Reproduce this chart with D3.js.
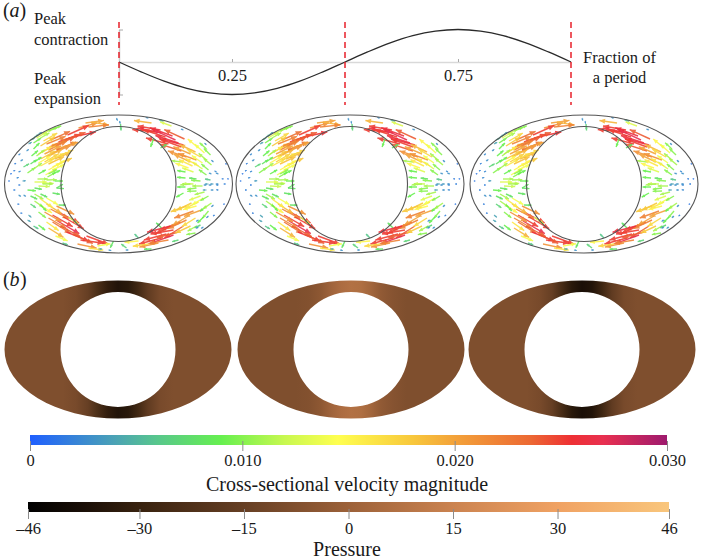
<!DOCTYPE html>
<html><head><meta charset="utf-8">
<script src="https://cdn.jsdelivr.net/npm/d3@7/dist/d3.min.js"></script>
<style>
html,body{margin:0;padding:0;background:#fff}
svg{display:block}
text{font-family:"Liberation Serif",serif;fill:#1a1a1a}
</style></head><body><svg id="c" width="705" height="560"></svg>
<script>
// Wall motion over one period
const periodFractions=[0,.05,.1,.15,.2,.25,.3,.35,.4,.45,.5,.55,.6,.65,.7,.75,.8,.85,.9,.95,1];
const wallDisplacement=[0,-.31,-.59,-.81,-.95,-1,-.95,-.81,-.59,-.31,0,.31,.59,.81,.95,1,.95,.81,.59,.31,0];
const periodTicks=[.25,.75];
const markerFractions=[0,.5,1];
const peakTicks=[-1,1];

// Colour bars
const velocityTicks=[0,.01,.02,.03];
const velocityTickLabels=["0","0.010","0.020","0.030"];
const velocityStops=[0,.004,.006,.009,.012,.0145,.018,.02,.0235,.0255,.027,.03];
const velocityColors=["#1f5fff","#4ba3b5","#58c78c","#66f04f","#c8f850","#ffff50","#f8c83c","#f3a23a","#ec6a33","#ee3034","#e83050","#9e1a6e"];
const pressureTicks=[-46,-30,-15,0,15,30,46];
const pressureTickLabels=["–46","–30","–15","0","15","30","46"];
const pressureStops=[-46,-38,-30,-15,0,15,30,46];
const pressureColors=["#000000","#1a0f07","#38220f","#663f24","#9c6139","#cb8350","#f0a263","#f9c67c"];

// Pressure along the long axis of the gap, one profile per panel
const gapX=[-115,-55,-42,-30,-20,-10,0,10,20,30,42,55,115];
const pressureA=[-8,-8,-10,-15,-24,-32,-36,-34,-27,-17,-10,-8,-8];
const pressureB=[-8,-8,-7,-4,1,5,7,6,2,-3,-6,-8,-8];
const pressureC=[-8,-8,-10,-15,-25,-34,-38,-36,-28,-17,-10,-8,-8];

// Velocity vectors: x, y, direction (deg), speed (x 0.001)
const flowField=[
[-40,-56,-15,21],[-33,-61,-8,20],[-27,-62,10,19],[-30,-57,-6,22],[-51,-49,-24,25],[-46,-47,-12,25.5],
[-72,-40,-22,22],[-68,-44,-24,23],[-64,-38,-24,24],[-70,-34,-26,22],[-60,-42,-20,25],[-66,-31,-22,21],
[-78,-38,-32,18],[-76,-32,-30,18.5],[-78,-25,-28,18],[-72,-27,-26,19],[-74,-22,-30,17.5],[-70,-20,-25,18.5],
[-64,-25,-22,19],[-62,-19,-24,18],[-78,-18,-28,16],[-82,-46,-30,13],[-76,-50,-28,12],[-70,-53,-22,10.5],[-66,-55,-20,10],
[-85,-41,-33,9.5],[-88,-44,-28,5],[-84,-47,-30,5],[-80,-50,-27,4],[-90,-40,-30,4],[-85,-35,-45,9],[-87,-28,-40,9],
[-95,-17,-30,7],[-91,-11,-35,10],[-88,-20,-35,8],[-80,-10,-30,9],[-73,-9,-30,14],[-66,-14,-25,14],[-70,-14,-30,15],
[-71,-7,-30,10],[-66,-10,-25,9],[-81,-5,0,11],[-72,-4,-2,11],[-76,-1,2,12],[-64,-3,0,9],[-62,4,5,8],
[-74,-30,-26,20],[-69,-37,-24,22],[-62,-34,-22,23],[-80,-30,-30,16],[-75,-43,-30,17],[-68,-24,-25,17],[-80,-21,-30,15],[-66,-17,-28,15],[-60,-28,-22,17],[-58,-36,-18,20],[-54,-44,-20,24],
[-84,-2,0,13],[-80,2,3,12],[-70,-10,-28,10],[-85,-15,-35,11],[-82,-28,-38,11],[-78,-46,-30,11],[-84,-22,-35,9],
[-104,-20,-30,2],[-100,-29,-35,2.5],[-98,-23,-30,3],[-105,-13,-20,2],[-108,-10,-20,1.5],[-102,-6,-10,2.5],[-100,-12,-25,2.5],[-96,-3,-5,3.5],[-110,-3,0,1.5],[-92,-33,-35,3],
[-2,-66,70,3],[1,-63,75,3],[2,-60,85,7],
// upper right
[33,-61,188,19],[53,-58,200,13],[42,-54,190,25],[43,-51,192,26],[37,-52,186,25],[47,-47,198,25],[57,-44,205,27],[66,-45,205,24],
[65,-39,195,26],[63,-37,200,25],[63,-33,198,24],[60,-41,198,26],[68,-27,198,21],[77,-32,205,19],[78,-24,200,21],[72,-22,205,20],[80,-36,220,15],[75,-12,200,13],
[86,-31,222,14],[92,-29,225,10],[88,-35,222,10],[93,-19,220,11],[88,-24,220,11],[88,-9,215,10],[84,-15,215,13],[80,-18,210,16],[63,-22,188,11],[67,-12,190,9],[67,-6,185,9],[78,-5,188,8],[75,0,182,12],[67,3,180,9],
[54,-48,200,26],[50,-40,195,25],[72,-30,203,20],[82,-27,210,17],[74,-18,205,16],[84,-21,215,14],[70,-16,200,15],[90,-14,220,10],[82,-3,185,10],[84,2,180,11],[78,7,178,10],[92,-4,190,6],
[35,-45,110,9],[42,-36,-30,8],[100,-10,200,3],[93,-10,200,3],[98,-12,210,2.5],[105,-5,190,2],[110,-5,190,1.5],[90,0,180,4],[95,0,180,3.5],[100,0,180,3],[107,0,180,2],[95,-22,220,3],[88,-39,225,3],[65,-54,200,3],[30,-66,190,3],[45,-63,195,5],[108,-20,190,1.5],
// lower left
[-61,37,30,27],[-66,31,30,25],[-60,28,28,25],[-68,25,28,22],[-62,22,25,21],[-72,20,32,19],[-78,15,35,16],[-78,21,35,15],[-84,10,30,11],[-70,34,30,22],[-55,33,30,25],
[-41,60,12,21],[-38,56,8,25],[-32,52,20,25],[-21,62,-10,14],[-30,64,8,16],[-70,44,32,19],[-63,52,22,14],[-56,59,20,6],
[-74,28,30,21],[-66,38,32,23],[-72,14,30,14],[-58,42,28,24],[-52,48,22,26],[-46,50,25,24],[-84,17,35,11],[-80,28,38,10],[-72,38,35,16],[-88,20,35,7],
[-80,41,38,9],[-85,42,30,6],[-91,36,30,4],[-90,31,40,4],[-5,57,115,8],[-91,6,5,9],[-88,12,25,8],[-78,10,25,8],[-84,4,10,8],[-78,21,45,9],[-60,21,2,8],[-66,9,10,8],[-62,4,-30,8],[-50,33,35,13],
[-101,20,10,2],[-98,29,10,2],[-100,11,30,3],[-95,11,30,3],[-105,6,0,2],[-100,1,0,2],[-76,0,0,11],[-20,65,0,4],[-10,66,10,3],
// lower right
[62,38,158,24],[55,46,170,25],[65,42,148,24],[55,51,160,27],[43,54,165,25],[40,59,168,21],[48,50,165,25],[58,40,155,25],[20,57,175,15],[33,65,178,8],[10,66,180,3],[8,64,217,7],[20,54,225,6],[43,44,225,8],
[75,27,160,22],[73,19,154,18],[83,26,160,20],[77,34,148,17],[70,32,150,20],[82,12,160,13],[78,22,165,15],[78,4,172,10],[72,0,175,11],[65,9,150,9],
[68,36,155,22],[52,42,165,26],[60,48,165,24],[80,18,155,16],[85,14,150,14],[72,42,155,18],[86,8,165,11],[68,22,160,18],[50,56,170,22],[90,12,150,10],[88,22,140,9],[78,42,150,11],[30,60,172,17],
[93,19,145,11],[90,27,130,10],[85,33,135,9],[82,41,155,7],[77,49,170,10],[60,56,165,7],
[88,1,180,3],[93,1,180,3],[100,1,180,2.5],[100,6,185,2.5],[95,6,180,3],[88,6,180,4],[95,21,140,3],[90,32,140,3],[96,31,140,2],[85,43,150,3],[80,43,150,3],[80,36,150,3],[106,20,170,1.5]
];

const panelCentersTop=[118.5,350,584];
const panelCentersBottom=[118,351,582];
const pressureProfiles=[pressureA,pressureB,pressureC];

const svg=d3.select("#c");
const defs=svg.append("defs");
const soft=defs.append("filter").attr("id","soft").attr("x","-5%").attr("y","-5%").attr("width","110%").attr("height","110%");
soft.append("feGaussianBlur").attr("stdDeviation",.4);

const vColor=d3.scaleLinear().domain(velocityStops).range(velocityColors).clamp(true);
const pColor=d3.scaleLinear().domain(pressureStops).range(pressureColors).clamp(true);

function label(x,y,s,size,anchor,style){
  return svg.append("text").attr("x",x).attr("y",y).attr("font-size",size).attr("text-anchor",anchor||"start").attr("font-style",style||"normal").text(s);
}

/* (a) waveform */
const xPeriod=d3.scaleLinear().domain([0,1]).range([119,571]);
const yWall=d3.scaleLinear().domain([-1,1]).range([94.5,29.5]);
const wavePlot=svg.append("g");
const gx=wavePlot.append("g").attr("transform",`translate(0,${yWall(0)})`)
  .call(d3.axisBottom(xPeriod).tickValues(periodTicks).tickFormat(d3.format(".2f")).tickSizeInner(-3).tickSizeOuter(0).tickPadding(7));
gx.select(".domain").attr("stroke","#d9d9d9").attr("stroke-width",1.5);
gx.selectAll(".tick line").attr("stroke","#aaa");
gx.selectAll("text").attr("font-size",16.5).attr("font-family","Liberation Serif").attr("fill","#1a1a1a");
const gy=wavePlot.append("g").attr("transform",`translate(${xPeriod(0)},0)`)
  .call(d3.axisRight(yWall).tickValues(peakTicks).tickFormat("").tickSizeInner(4).tickSizeOuter(0));
gy.select(".domain").attr("stroke","#c8c8c8").attr("stroke-width",1.5);
gy.selectAll(".tick line").attr("stroke","#aaa");
wavePlot.append("path").datum(periodFractions.map((f,i)=>[f,wallDisplacement[i]]))
  .attr("fill","none").attr("stroke","#2a2a2a").attr("stroke-width",1.3)
  .attr("d",d3.line().x(d=>xPeriod(d[0])).y(d=>yWall(d[1])).curve(d3.curveCatmullRom));
wavePlot.selectAll(".marker").data(markerFractions).join("line").attr("class","marker")
  .attr("x1",d=>xPeriod(d)).attr("x2",d=>xPeriod(d)).attr("y1",22).attr("y2",105)
  .attr("stroke","#e8202a").attr("stroke-width",1.5).attr("stroke-dasharray","6 4");

label(3,17,"(",20); label(9.5,17,"a",20,"start","italic"); label(19.5,17,")",20);
label(34,24,"Peak",16.5); label(34,45,"contraction",16.5);
label(34,84,"Peak",16.5); label(34,104,"expansion",16.5);
label(619.5,63,"Fraction of",16.5,"middle"); label(619.5,83,"a period",16.5,"middle");

/* (a) flow panels */
const ringA=114, ringB=69, hole=57.5;
panelCentersTop.forEach(cx=>{
  const cy=184;
  const px=d3.scaleLinear().domain([-ringA,ringA]).range([cx-ringA,cx+ringA]);
  const py=d3.scaleLinear().domain([-ringB,ringB]).range([cy-ringB,cy+ringB]);
  const len=d3.scaleLinear().domain([0,30]).range([0,28]);
  const g=svg.append("g").attr("filter","url(#soft)");
  const arrows=g.selectAll(".arrow").data(flowField).join("g").attr("class","arrow")
    .attr("transform",d=>`translate(${px(d[0])},${py(d[1])}) rotate(${d[2]})`)
    .attr("opacity",.9);
  arrows.append("line").attr("x1",0).attr("y1",0).attr("x2",d=>len(d[3])).attr("y2",0)
    .attr("stroke",d=>vColor(d[3]/1000)).attr("stroke-width",d=>d[3]<5?1:1.4);
  arrows.append("path").attr("fill",d=>vColor(d[3]/1000))
    .attr("d",d=>{const L=len(d[3]),h=Math.min(6,1.2+L*.25),w=Math.min(2.6,.7+L*.1);
      return `M${L},0L${L-h},${-w}L${L-h},${w}Z`;});
  g.append("ellipse").attr("cx",px(0)).attr("cy",py(0)).attr("rx",ringA).attr("ry",ringB)
    .attr("fill","none").attr("stroke","#555").attr("stroke-width",1.1);
  g.append("circle").attr("cx",px(0)).attr("cy",py(0)).attr("r",hole)
    .attr("fill","none").attr("stroke","#555").attr("stroke-width",1.1);
});

/* (b) pressure panels */
panelCentersBottom.forEach((cx,i)=>{
  const cy=349.5;
  const gid="ring"+i;
  const grad=defs.append("linearGradient").attr("id",gid).attr("gradientUnits","userSpaceOnUse")
    .attr("x1",cx-115).attr("x2",cx+115).attr("y1",0).attr("y2",0);
  const off=d3.scaleLinear().domain([-115,115]).range([0,1]);
  gapX.forEach((gxv,j)=>{
    grad.append("stop").attr("offset",off(gxv)).attr("stop-color",pColor(pressureProfiles[i][j]));
  });
  const a=113.5,b=69,r=57.5;
  const d=`M${cx-a},${cy}A${a},${b} 0 1,0 ${cx+a},${cy}A${a},${b} 0 1,0 ${cx-a},${cy}Z`+
          `M${cx-r},${cy}A${r},${r} 0 1,0 ${cx+r},${cy}A${r},${r} 0 1,0 ${cx-r},${cy}Z`;
  svg.append("path").attr("d",d).attr("fill-rule","evenodd").attr("fill",`url(#${gid})`);
});
label(3,286,"(",20); label(9.5,286,"b",20,"start","italic"); label(20,286,")",20);

/* colour bars */
function colorBar(id,scale,stops,colors,ticks,labels,barTop,tickTop,title,titleY,padding){
  const g=defs.append("linearGradient").attr("id",id).attr("gradientUnits","userSpaceOnUse")
    .attr("x1",scale.range()[0]).attr("x2",scale.range()[1]).attr("y1",0).attr("y2",0);
  const off=d3.scaleLinear().domain(scale.domain()).range([0,1]);
  stops.forEach((s,i)=>g.append("stop").attr("offset",off(s)).attr("stop-color",colors[i]));
  svg.append("rect").attr("x",scale.range()[0]).attr("y",barTop).attr("width",scale.range()[1]-scale.range()[0]).attr("height",10)
    .attr("fill",`url(#${id})`);
  const ax=svg.append("g").attr("transform",`translate(0,${tickTop})`)
    .call(d3.axisBottom(scale).tickValues(ticks).tickFormat((d,i)=>labels[i]).tickSizeInner(10).tickSizeOuter(0).tickPadding(padding));
  ax.select(".domain").remove();
  ax.selectAll(".tick line").attr("stroke","#8c8c8c");
  ax.selectAll("text").attr("font-size",16.5).attr("font-family","Liberation Serif").attr("fill","#1a1a1a");
  label(347,titleY,title,20,"middle");
}
const vScale=d3.scaleLinear().domain([0,.03]).range([30,667]);
const pScale=d3.scaleLinear().domain([-46,46]).range([28,669]);
colorBar("vbar",vScale,velocityStops,velocityColors,velocityTicks,velocityTickLabels,435,441,"Cross-sectional velocity magnitude",491,3);
colorBar("pbar",pScale,pressureStops,pressureColors,pressureTicks,pressureTickLabels,502,509,"Pressure",556,3);
</script></body></html>
